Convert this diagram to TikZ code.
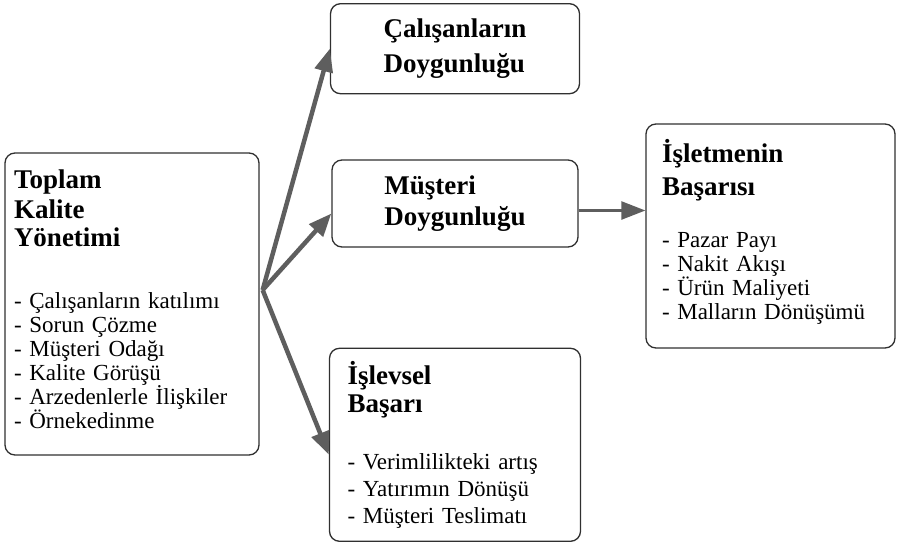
\documentclass[tikz,border=0pt]{standalone}
\usepackage{fontspec}
\setmainfont{Liberation Serif}
\usetikzlibrary{arrows.meta, positioning}
\definecolor{boxborder}{HTML}{303030}
\definecolor{arrowfill}{HTML}{5E5E5E}
\newcommand{\hd}[1]{{\fontsize{27}{28}\selectfont\bfseries #1}}

\begin{document}
\begin{tikzpicture}[x=1pt, y=-1pt,
      card/.style={draw=boxborder, line width=1.3pt, rounded corners=10pt,
        align=left, inner ysep=0pt, font=\fontsize{23}{24}\selectfont},
      flow/.style={draw=arrowfill, line width=4.5pt,
        -{Triangle[length=23pt, width=18pt, fill=arrowfill]}},
      >=Latex
    ]
      \useasboundingbox (0,0) rectangle (900,546);
      % left: total quality management
      \node[card, minimum height=302pt, text width=236pt, inner xsep=9pt]
        (tqm) at (132,304)
        {\hd{Toplam}\\[5pt] \hd{Kalite}\\[4pt] \hd{Yönetimi}\\[38pt]
         - Çalışanların katılımı\\ - Sorun Çözme\\ - Müşteri Odağı\\
         - Kalite Görüşü\\ - Arzedenlerle İlişkiler\\ - Örnekedinme\\[-14pt]\mbox{}};
      % middle column
      \node[card, minimum width=246pt, minimum height=87pt] (musteri)
        at (455,203.5) {\hd{Müşteri}\\[6pt] \hd{Doygunluğu}};
      \node[card, minimum width=249pt, minimum height=90pt,
        above=65pt of musteri] (calisan)
        {\hd{Çalışanların}\\[9pt] \hd{Doygunluğu}};
      \node[card, minimum height=193pt, text width=215pt, inner xsep=18pt,
        below=100pt of musteri] (islevsel)
        {\hd{İşlevsel}\\[4pt] \hd{Başarı}\\[33pt]
         - Verimlilikteki artış\\[3pt] - Yatırımın Dönüşü\\[3pt]
         - Müşteri Teslimatı};
      % right: business success
      \node[card, minimum height=224pt, text width=217pt, inner xsep=16pt]
        (isletme) at (770.5,236)
        {\hd{İşletmenin}\\[9pt] \hd{Başarısı}\\[28pt]
         - Pazar Payı\\ - Nakit Akışı\\ - Ürün Maliyeti\\
         - Malların Dönüşümü\\[-10pt]\mbox{}};
      \coordinate (hub) at ([xshift=3pt, yshift=14pt]tqm.east);
      \draw[flow] (hub) -- (calisan.west);
      \draw[flow] (hub) -- ([yshift=-10pt]musteri.west);
      \draw[flow] (hub) -- ([yshift=-10pt]islevsel.west);
      \draw[flow, line width=2.5pt,
        -{Triangle[length=24pt, width=18pt, fill=arrowfill]}]
        ([yshift=-7pt]musteri.east) -- ([yshift=-7pt]musteri.east -| isletme.west);
    \end{tikzpicture}
\end{document}
